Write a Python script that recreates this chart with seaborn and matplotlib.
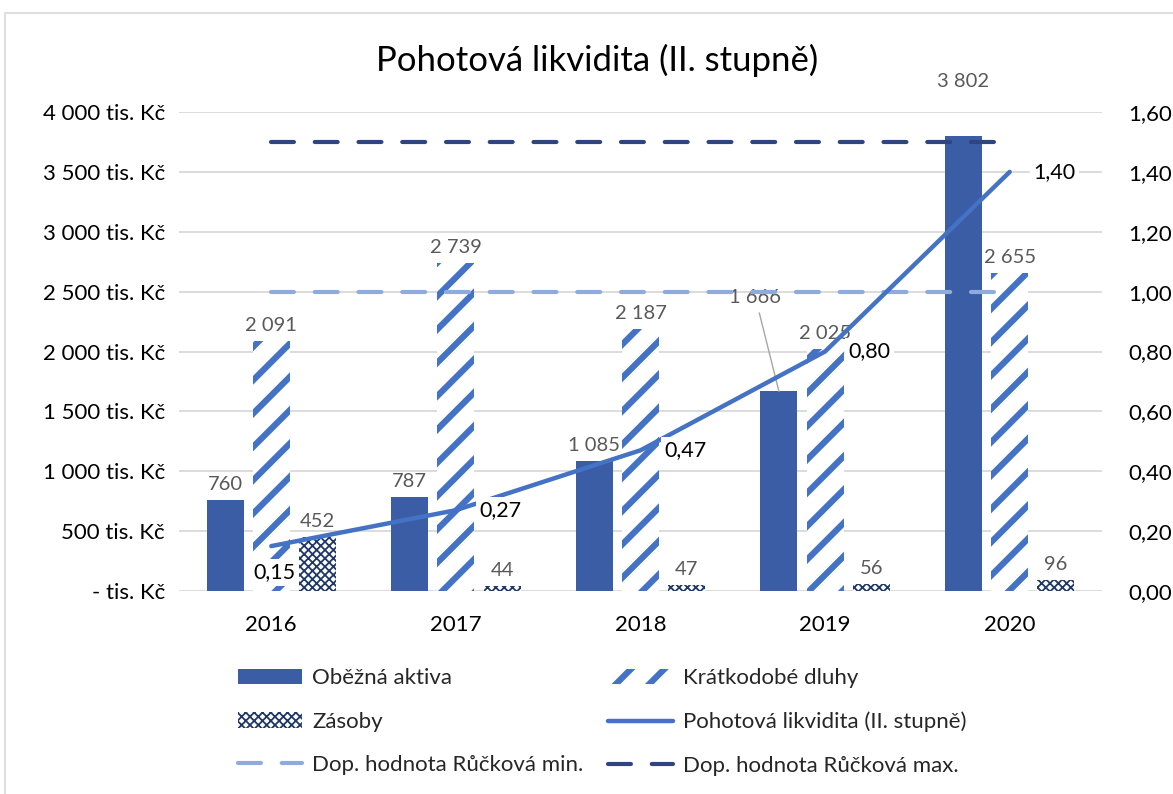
import matplotlib
matplotlib.use("Agg")
import matplotlib.pyplot as plt
import seaborn as sns
import pandas as pd
from matplotlib.patches import Patch, Rectangle
from matplotlib.lines import Line2D

# ---------------- data ----------------
years = ["2016", "2017", "2018", "2019", "2020"]
obezna_aktiva = [760, 787, 1085, 1666, 3802]
kratkodobe_dluhy = [2091, 2739, 2187, 2025, 2655]
zasoby = [452, 44, 47, 56, 96]
pohotova_likvidita = [0.15, 0.27, 0.47, 0.80, 1.40]
ruckova_min = [1.0, 1.0, 1.0, 1.0, 1.0]
ruckova_max = [1.5, 1.5, 1.5, 1.5, 1.5]
series_names = ["Oběžná aktiva", "Krátkodobé dluhy", "Zásoby"]
line_name = "Pohotová likvidita (II. stupně)"
min_name = "Dop. hodnota Růčková min."
max_name = "Dop. hodnota Růčková max."
title = "Pohotová likvidita (II. stupně)"
left_ticks = [0, 500, 1000, 1500, 2000, 2500, 3000, 3500, 4000]
right_ticks = [0.0, 0.2, 0.4, 0.6, 0.8, 1.0, 1.2, 1.4, 1.6]

df = pd.DataFrame({
    "rok": years * 3,
    "serie": [series_names[0]] * 5 + [series_names[1]] * 5 + [series_names[2]] * 5,
    "hodnota": obezna_aktiva + kratkodobe_dluhy + zasoby,
})

# ---------------- style ----------------
sns.set_theme(style="white")
plt.rcParams["font.family"] = ["Lato", "DejaVu Sans"]
plt.rcParams["hatch.linewidth"] = 4.5

C_DARK = "#3A5DA5"
C_MID = "#4472C4"
C_NAVY = "#1F3864"
C_MIN = "#8FAADC"
C_MAX = "#2F4580"
C_GRID = "#D9D9D9"
C_LBL = "#595959"

TICK_FS = 16
LBL_FS = 14.5
VAL_FS = 15.5

fig = plt.figure(figsize=(11.73, 7.94), dpi=100)
fig.patches.append(Rectangle((5 / 1173, -0.2), 1.3, 1.2 - 13 / 794, transform=fig.transFigure,
                             facecolor="none", edgecolor=C_GRID, lw=1.2, zorder=0))

ax = fig.add_axes([179 / 1173, 1 - 591 / 794, 923 / 1173, 479 / 794])
sns.barplot(data=df, x="rok", y="hodnota", hue="serie", hue_order=series_names, order=years,
            width=0.75, gap=0.2, palette=[C_DARK, C_MID, C_NAVY], saturation=1,
            legend=False, ax=ax, errorbar=None, zorder=2)

styles = [
    dict(facecolor=C_DARK, edgecolor=C_DARK, hatch=None, hlw=None),
    dict(facecolor="white", edgecolor=C_MID, hatch="/", hlw=4.5),
    dict(facecolor="white", edgecolor=C_NAVY, hatch="xxxx", hlw=1.3),
]
for cont, st in zip(ax.containers, styles):
    for p in cont:
        p.set_facecolor(st["facecolor"])
        p.set_edgecolor(st["edgecolor"])
        p.set_linewidth(0)
        if st["hatch"]:
            p.set_hatch(st["hatch"])
            if hasattr(p, "set_hatch_linewidth"):
                p.set_hatch_linewidth(st["hlw"])

ax.set_xlim(-0.5, 4.5)
ax.set_ylim(0, 4000)
ax.set_yticks(left_ticks)
ax.set_yticklabels(["- tis. Kč" if v == 0 else f"{v:,} tis. Kč".replace(",", " ") for v in left_ticks])
ax.grid(axis="y", color=C_GRID, lw=1.3, zorder=0)
ax.set_axisbelow(True)
for s in ax.spines.values():
    s.set_visible(False)
ax.set_xlabel("")
ax.set_ylabel("")
ax.tick_params(axis="y", length=0, pad=10, labelsize=TICK_FS, labelcolor="#000000")
ax.tick_params(axis="x", length=0, pad=17, labelsize=TICK_FS, labelcolor="#000000")

# bar labels
fmt = lambda v: f"{v:,}".replace(",", " ")
for ci, (cont, vals) in enumerate(zip(ax.containers, [obezna_aktiva, kratkodobe_dluhy, zasoby])):
    labels = []
    for i, v in enumerate(vals):
        if ci == 0 and i in (3, 4):
            labels.append("")
        else:
            labels.append(fmt(v))
    ax.bar_label(cont, labels=labels, padding=5, color=C_LBL, fontsize=LBL_FS)

# special labels
p19 = ax.containers[0][3]
ax.annotate(fmt(obezna_aktiva[3]), xy=(p19.get_x() + p19.get_width() / 2, p19.get_height()),
            xytext=(-17, 68), textcoords="offset points", ha="center", va="center",
            color=C_LBL, fontsize=LBL_FS,
            arrowprops=dict(arrowstyle="-", color="#A6A6A6", lw=1, shrinkA=3, shrinkB=0))
p20 = ax.containers[0][4]
ax.annotate(fmt(obezna_aktiva[4]), xy=(p20.get_x() + p20.get_width() / 2, p20.get_height()),
            xytext=(0, 39), textcoords="offset points", ha="center", va="center",
            color=C_LBL, fontsize=LBL_FS, annotation_clip=False)

# ---------------- right axis ----------------
ax2 = ax.twinx()
xpos = list(range(len(years)))
sns.lineplot(x=xpos, y=ruckova_min, ax=ax2, color=C_MIN, lw=3, legend=False)
sns.lineplot(x=xpos, y=ruckova_max, ax=ax2, color=C_MAX, lw=3, legend=False)
sns.lineplot(x=xpos, y=pohotova_likvidita, ax=ax2, color=C_MID, lw=3.2, legend=False)
for ln in ax2.lines[:2]:
    ln.set_dashes((5.5, 5.0))
    ln.set_dash_capstyle("round")
ax2.lines[2].set_solid_capstyle("round")
ax2.lines[2].set_solid_joinstyle("round")
ax2.set_xlim(-0.5, 4.5)
ax2.set_ylim(0, 1.6)
ax2.set_yticks(right_ticks)
ax2.set_yticklabels([f"{v:.2f}".replace(".", ",") for v in right_ticks])
ax2.grid(False)
for s in ax2.spines.values():
    s.set_visible(False)
ax2.set_ylabel("")
ax2.tick_params(axis="y", which="both", left=False, right=False, labelleft=False, labelright=True,
                length=0, pad=19, labelsize=TICK_FS, labelcolor="#000000")

for i, v in enumerate(pohotova_likvidita):
    lbl = f"{v:.2f}".replace(".", ",")
    if i == 0:
        off, ha = (2, -19), "center"
    else:
        off, ha = (17, 0), "left"
    ax2.annotate(lbl, xy=(xpos[i], v), xytext=off, textcoords="offset points",
                 ha=ha, va="center", fontsize=VAL_FS, color="#000000",
                 bbox=dict(boxstyle="square,pad=0.15", facecolor="white", edgecolor="none"))

ax.set_xticks(xpos)
ax.set_xticklabels(years)

# title
fig.text(597 / 1173, 1 - 60 / 794, title, ha="center", va="center", fontsize=25, color="#000000")

# legend
h_oa = Patch(facecolor=C_DARK, edgecolor=C_DARK, lw=0, label=series_names[0])
h_kd = Patch(facecolor="white", edgecolor=C_MID, hatch="/", lw=0, label=series_names[1])
h_za = Patch(facecolor="white", edgecolor=C_NAVY, hatch="xxxx", lw=0, label=series_names[2])
h_pl = Line2D([], [], color=C_MID, lw=3.2, solid_capstyle="round", label=line_name)
h_mn = Line2D([], [], color=C_MIN, lw=3, dashes=(5.5, 5.0), dash_capstyle="round", label=min_name)
h_mx = Line2D([], [], color=C_MAX, lw=3, dashes=(5.5, 5.0), dash_capstyle="round", label=max_name)
leg = fig.legend(handles=[h_oa, h_za, h_mn, h_kd, h_pl, h_mx], ncol=2, loc="center",
                 bbox_to_anchor=(602 / 1173, 1 - 722 / 794), frameon=False, fontsize=16,
                 handlelength=2.9, handleheight=0.7, handletextpad=0.45, columnspacing=1.1,
                 labelspacing=1.05)
for p in leg.get_patches():
    if p.get_hatch() == "xxxx" and hasattr(p, "set_hatch_linewidth"):
        p.set_hatch_linewidth(1.3)

fig.savefig("out.png", dpi=100)
